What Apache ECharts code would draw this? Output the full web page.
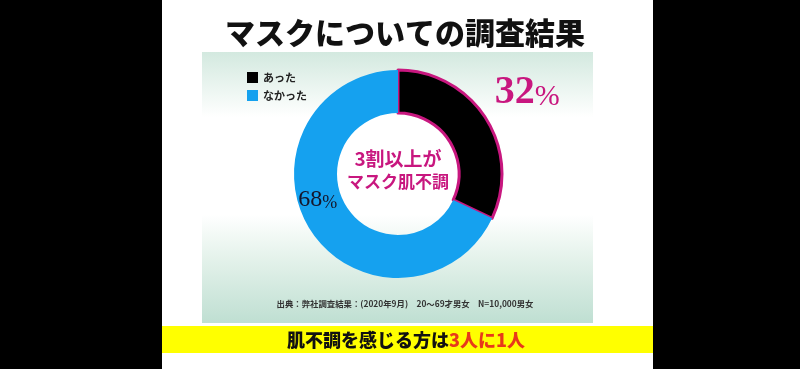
<!DOCTYPE html>
<html>
<head>
<meta charset="utf-8">
<script src="https://cdn.jsdelivr.net/npm/echarts@6/dist/echarts.min.js"></script>
<style>
html,body{margin:0;padding:0;background:#000;}
#main{width:800px;height:369px;}
</style>
</head>
<body>
<div id="main"></div>
<script>
const categories = ['あった', 'なかった'];
const values = [32, 68];
const titleText = 'マスクについての調査結果';
const centerLines = ['3割以上が', 'マスク肌不調'];
const sourceText = '出典：弊社調査結果：(2020年9月)　20～69才男女　N=10,000男女';
const bannerBlack = '肌不調を感じる方は';
const bannerRed = '3人に1人';

const sliceColors = ['#000000', '#15a1ef'];
const magenta = '#c8177f';

const chart = echarts.init(document.getElementById('main'), null, {renderer: 'canvas'});

const labelOffsets = [[57, -36], [-8, -20]];

const option = {
  backgroundColor: '#000000',
  animation: false,
  graphic: [
    {type: 'rect', z: -10, shape: {x: 162, y: 0, width: 491, height: 369}, style: {fill: '#ffffff'}},
    {type: 'rect', z: -9, shape: {x: 202, y: 52, width: 391, height: 271},
      style: {fill: new echarts.graphic.LinearGradient(0, 0, 0, 1, [
        {offset: 0, color: '#d3e9df'},
        {offset: 0.12, color: '#e9f4ef'},
        {offset: 0.24, color: '#ffffff'},
        {offset: 0.6, color: '#ffffff'},
        {offset: 0.75, color: '#e6f3ec'},
        {offset: 1, color: '#bfdfd2'}
      ])}},
    {type: 'rect', z: -9, shape: {x: 162, y: 326, width: 491, height: 27}, style: {fill: '#ffff00'}},
    {type: 'text', z: 10, x: 405, y: 33, style: {
      text: titleText, align: 'center', verticalAlign: 'middle',
      fill: '#111111', font: '900 30px "Noto Sans CJK JP"'}},
    {type: 'text', z: 10, x: 405, y: 304, style: {
      text: sourceText, align: 'center', verticalAlign: 'middle',
      fill: '#333333', font: 'bold 8.4px "Noto Sans CJK JP"'}},
    {type: 'text', z: 10, x: 406, y: 340, style: {
      text: '{k|' + bannerBlack + '}{r|' + bannerRed + '}',
      align: 'center', verticalAlign: 'middle',
      rich: {
        k: {fill: '#111111', fontSize: 18, fontWeight: 900, fontFamily: 'Noto Sans CJK JP'},
        r: {fill: '#e8391a', fontSize: 18, fontWeight: 900, fontFamily: 'Noto Sans CJK JP'}
      }}},
    {type: 'text', z: 10, x: 398, y: 170, style: {
      text: '{a|' + centerLines[0] + '}\n{b|' + centerLines[1] + '}',
      align: 'center', verticalAlign: 'middle',
      rich: {
        a: {fill: magenta, fontSize: 19, lineHeight: 23, fontWeight: 'bold', fontFamily: 'Noto Sans CJK JP'},
        b: {fill: magenta, fontSize: 17, lineHeight: 23, fontWeight: 'bold', fontFamily: 'Noto Sans CJK JP'}
      }}}
  ],
  legend: {
    orient: 'vertical',
    left: 242,
    top: 67,
    itemWidth: 11,
    itemHeight: 11,
    itemGap: 7,
    icon: 'rect',
    itemStyle: {borderWidth: 0},
    textStyle: {fontSize: 11, color: '#222222', fontFamily: 'Noto Sans CJK JP', fontWeight: 'bold'},
    data: categories
  },
  series: [{
    type: 'pie',
    center: [398, 174],
    radius: [61, 104],
    startAngle: 90,
    clockwise: true,
    silent: true,
    label: {
      show: true,
      position: 'inside',
      formatter: p => '{n|' + p.value + '}{p|%}'
    },
    labelLine: {show: false},
    labelLayout: p => ({dx: labelOffsets[p.dataIndex][0], dy: labelOffsets[p.dataIndex][1]}),
    data: categories.map((c, i) => ({
      name: c,
      value: values[i],
      itemStyle: i === 0
        ? {color: sliceColors[i], borderColor: magenta, borderWidth: 3}
        : {color: sliceColors[i], borderWidth: 0},
      label: i === 0
        ? {rich: {
            n: {fontSize: 40, color: magenta, fontFamily: 'Liberation Serif', fontWeight: 'bold', verticalAlign: 'bottom'},
            p: {fontSize: 30, color: magenta, fontFamily: 'Liberation Serif', verticalAlign: 'bottom'}
          }}
        : {rich: {
            n: {fontSize: 24, color: '#15152a', fontFamily: 'Liberation Serif', verticalAlign: 'bottom'},
            p: {fontSize: 18, color: '#15152a', fontFamily: 'Liberation Serif', verticalAlign: 'bottom'}
          }}
    }))
  }]
};
chart.setOption(option);
</script>
</body>
</html>
